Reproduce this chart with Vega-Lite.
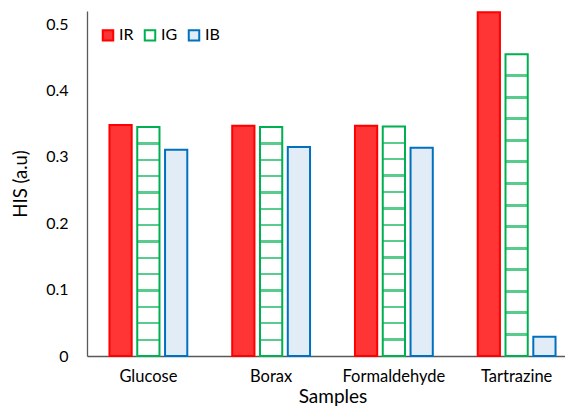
{
  "$schema": "https://vega.github.io/schema/vega-lite/v6.json",
  "width": 491,
  "height": 345,
  "autosize": "none",
  "padding": {"left": 87, "top": 11, "right": 0, "bottom": 57},
  "background": "white",
  "config": {
    "view": {"stroke": null},
    "font": "Lato",
    "axis": {"grid": false, "ticks": false, "domainColor": "#595959", "domainWidth": 1.3, "labelColor": "#000000", "titleColor": "#000000", "titleFontWeight": "normal"}
  },
  "data": {"values": [
    {"sample": "Glucose", "series": "IR", "value": 0.348},
    {"sample": "Glucose", "series": "IG", "value": 0.345},
    {"sample": "Glucose", "series": "IB", "value": 0.311},
    {"sample": "Borax", "series": "IR", "value": 0.347},
    {"sample": "Borax", "series": "IG", "value": 0.345},
    {"sample": "Borax", "series": "IB", "value": 0.315},
    {"sample": "Formaldehyde", "series": "IR", "value": 0.347},
    {"sample": "Formaldehyde", "series": "IG", "value": 0.346},
    {"sample": "Formaldehyde", "series": "IB", "value": 0.314},
    {"sample": "Tartrazine", "series": "IR", "value": 0.518},
    {"sample": "Tartrazine", "series": "IG", "value": 0.455},
    {"sample": "Tartrazine", "series": "IB", "value": 0.029}
  ]},
  "encoding": {
    "x": {"field": "sample", "type": "nominal", "sort": ["Glucose", "Borax", "Formaldehyde", "Tartrazine"],
      "scale": {"paddingInner": 0.366, "paddingOuter": 0.183},
      "axis": {"title": "Samples", "labelAngle": 0, "labelFontSize": 16.5, "titleFontSize": 19, "labelPadding": 12, "titlePadding": 3}},
    "xOffset": {"field": "series", "type": "nominal", "sort": ["IR", "IG", "IB"], "scale": {"paddingInner": 0.2}},
    "y": {"field": "value", "type": "quantitative", "scale": {"domain": [0, 0.52], "nice": false},
      "axis": {"title": "HIS (a.u)", "values": [0, 0.1, 0.2, 0.3, 0.4, 0.5], "format": ".1~f", "labelFontSize": 16, "labelPadding": 19, "titleFontSize": 18.5, "titlePadding": 15}}
  },
  "layer": [
    {
      "mark": {"type": "bar", "strokeWidth": 2},
      "encoding": {
        "fill": {"field": "series", "type": "nominal",
          "scale": {"domain": ["IR", "IG", "IB"], "range": ["#ff3535", "#ffffff", "#e1ecf7"]},
          "legend": {"title": null, "orient": "none", "legendX": 13, "legendY": 16, "direction": "horizontal", "symbolType": "square", "symbolSize": 110, "symbolStrokeWidth": 2, "labelFontSize": 16, "labelOffset": 3, "columnPadding": 6}},
        "stroke": {"field": "series", "type": "nominal",
          "scale": {"domain": ["IR", "IG", "IB"], "range": ["#ff0000", "#00b050", "#0070c0"]},
          "legend": {"title": null, "orient": "none", "legendX": 13, "legendY": 16, "direction": "horizontal", "symbolType": "square", "symbolSize": 110, "symbolStrokeWidth": 2, "labelFontSize": 16, "labelOffset": 3, "columnPadding": 6}}
      }
    },
    {
      "transform": [{"filter": "datum.series === 'IG'"}],
      "mark": {"type": "bar", "strokeWidth": 0, "fill": {
        "gradient": "linear", "x1": 0, "y1": 0, "x2": 0, "y2": 1,
        "stops": [
          {"offset": 0, "color": "rgba(255,255,255,0)"},
          {"offset": 0.0664, "color": "rgba(255,255,255,0)"}, {"offset": 0.0664, "color": "rgba(0,176,80,0.65)"}, {"offset": 0.0764, "color": "rgba(0,176,80,0.65)"}, {"offset": 0.0764, "color": "rgba(255,255,255,0)"},
          {"offset": 0.1379, "color": "rgba(255,255,255,0)"}, {"offset": 0.1379, "color": "rgba(0,176,80,0.65)"}, {"offset": 0.1479, "color": "rgba(0,176,80,0.65)"}, {"offset": 0.1479, "color": "rgba(255,255,255,0)"},
          {"offset": 0.2093, "color": "rgba(255,255,255,0)"}, {"offset": 0.2093, "color": "rgba(0,176,80,0.65)"}, {"offset": 0.2193, "color": "rgba(0,176,80,0.65)"}, {"offset": 0.2193, "color": "rgba(255,255,255,0)"},
          {"offset": 0.2807, "color": "rgba(255,255,255,0)"}, {"offset": 0.2807, "color": "rgba(0,176,80,0.65)"}, {"offset": 0.2907, "color": "rgba(0,176,80,0.65)"}, {"offset": 0.2907, "color": "rgba(255,255,255,0)"},
          {"offset": 0.3521, "color": "rgba(255,255,255,0)"}, {"offset": 0.3521, "color": "rgba(0,176,80,0.65)"}, {"offset": 0.3621, "color": "rgba(0,176,80,0.65)"}, {"offset": 0.3621, "color": "rgba(255,255,255,0)"},
          {"offset": 0.4236, "color": "rgba(255,255,255,0)"}, {"offset": 0.4236, "color": "rgba(0,176,80,0.65)"}, {"offset": 0.4336, "color": "rgba(0,176,80,0.65)"}, {"offset": 0.4336, "color": "rgba(255,255,255,0)"},
          {"offset": 0.495, "color": "rgba(255,255,255,0)"}, {"offset": 0.495, "color": "rgba(0,176,80,0.65)"}, {"offset": 0.505, "color": "rgba(0,176,80,0.65)"}, {"offset": 0.505, "color": "rgba(255,255,255,0)"},
          {"offset": 0.5664, "color": "rgba(255,255,255,0)"}, {"offset": 0.5664, "color": "rgba(0,176,80,0.65)"}, {"offset": 0.5764, "color": "rgba(0,176,80,0.65)"}, {"offset": 0.5764, "color": "rgba(255,255,255,0)"},
          {"offset": 0.6379, "color": "rgba(255,255,255,0)"}, {"offset": 0.6379, "color": "rgba(0,176,80,0.65)"}, {"offset": 0.6479, "color": "rgba(0,176,80,0.65)"}, {"offset": 0.6479, "color": "rgba(255,255,255,0)"},
          {"offset": 0.7093, "color": "rgba(255,255,255,0)"}, {"offset": 0.7093, "color": "rgba(0,176,80,0.65)"}, {"offset": 0.7193, "color": "rgba(0,176,80,0.65)"}, {"offset": 0.7193, "color": "rgba(255,255,255,0)"},
          {"offset": 0.7807, "color": "rgba(255,255,255,0)"}, {"offset": 0.7807, "color": "rgba(0,176,80,0.65)"}, {"offset": 0.7907, "color": "rgba(0,176,80,0.65)"}, {"offset": 0.7907, "color": "rgba(255,255,255,0)"},
          {"offset": 0.8521, "color": "rgba(255,255,255,0)"}, {"offset": 0.8521, "color": "rgba(0,176,80,0.65)"}, {"offset": 0.8621, "color": "rgba(0,176,80,0.65)"}, {"offset": 0.8621, "color": "rgba(255,255,255,0)"},
          {"offset": 0.9236, "color": "rgba(255,255,255,0)"}, {"offset": 0.9236, "color": "rgba(0,176,80,0.65)"}, {"offset": 0.9336, "color": "rgba(0,176,80,0.65)"}, {"offset": 0.9336, "color": "rgba(255,255,255,0)"},
          {"offset": 1, "color": "rgba(255,255,255,0)"}
        ]}}
    }
  ]
}
